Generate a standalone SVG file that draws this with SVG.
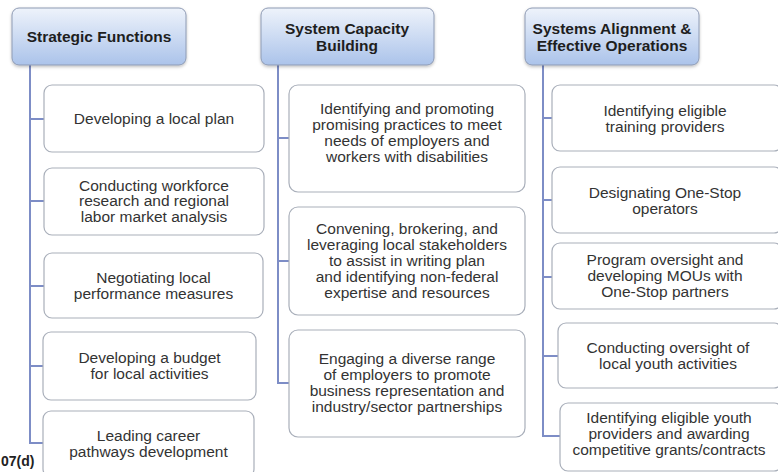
<svg xmlns="http://www.w3.org/2000/svg" width="778" height="472" viewBox="0 0 778 472">
<defs>
<linearGradient id="hdr" x1="0" y1="0" x2="0" y2="1">
<stop offset="0" stop-color="#eef3fb"/>
<stop offset="1" stop-color="#abc3ea"/>
</linearGradient>
<filter id="sh" x="-10%" y="-10%" width="120%" height="130%">
<feDropShadow dx="0" dy="1.5" stdDeviation="1.5" flood-color="#000" flood-opacity="0.25"/>
</filter>
<style>
.hd{fill:url(#hdr);stroke:#8e9bb4;stroke-width:1;filter:url(#sh)}
.bx{fill:#fff;stroke:#a9afba;stroke-width:1.2}
.ht{font-family:"Liberation Sans",Arial,sans-serif;font-weight:bold;font-size:15.5px;fill:#1e1e1e;text-anchor:middle}
.t{font-family:"Liberation Sans",Arial,sans-serif;font-size:15.5px;fill:#333;text-anchor:middle}
.c{fill:none;stroke:#7d8dc6;stroke-width:2}
</style>
</defs>
<rect width="778" height="472" fill="#fff"/>
<g id="connectors">
<path class="c" d="M30,65V443H43M30,119H44M30,201H44M30,286H44M30,366H43"/>
<path class="c" d="M278,65V383H289M278,138H289M278,261H289"/>
<path class="c" d="M543,65V436H560M543,118H552M543,200H552M543,277H552M543,356H558"/>
</g>
<g id="h1"><rect class="hd" x="12" y="8" width="174" height="57" rx="7"/><text class="ht" x="99" y="42">Strategic Functions</text></g>
<g id="h2"><rect class="hd" x="261" y="8" width="173" height="57" rx="7"/><text class="ht" x="347" y="34">System Capacity</text><text class="ht" x="347" y="51">Building</text></g>
<g id="h3"><rect class="hd" x="525" y="8" width="174" height="57" rx="7"/><text class="ht" x="612" y="34">Systems Alignment &amp;</text><text class="ht" x="612" y="51">Effective Operations</text></g>

<g id="a1"><rect class="bx" x="44" y="85" width="220" height="67" rx="8"/><text class="t" x="154" y="124">Developing a local plan</text></g>
<g id="a2"><rect class="bx" x="44" y="168" width="220" height="67" rx="8"/><text class="t" x="154" y="190.5">Conducting workforce</text><text class="t" x="154" y="206">research and regional</text><text class="t" x="154" y="221.5">labor market analysis</text></g>
<g id="a3"><rect class="bx" x="44" y="253" width="219" height="65" rx="8"/><text class="t" x="153.5" y="283">Negotiating local</text><text class="t" x="153.5" y="299">performance measures</text></g>
<g id="a4"><rect class="bx" x="43" y="332" width="213" height="68" rx="8"/><text class="t" x="149.5" y="363">Developing a budget</text><text class="t" x="149.5" y="379">for local activities</text></g>
<g id="a5"><rect class="bx" x="43" y="411" width="211" height="66" rx="8"/><text class="t" x="148.5" y="441">Leading career</text><text class="t" x="148.5" y="457">pathways development</text></g>

<g id="b1"><rect class="bx" x="289" y="85" width="236" height="107" rx="9"/><text class="t" x="407" y="114">Identifying and promoting</text><text class="t" x="407" y="130">promising practices to meet</text><text class="t" x="407" y="146">needs of employers and</text><text class="t" x="407" y="162">workers with disabilities</text></g>
<g id="b2"><rect class="bx" x="289" y="207" width="236" height="108" rx="9"/><text class="t" x="407" y="233.5">Convening, brokering, and</text><text class="t" x="407" y="249.5">leveraging local stakeholders</text><text class="t" x="407" y="265.5">to assist in writing plan</text><text class="t" x="407" y="281.5">and identifying non-federal</text><text class="t" x="407" y="297.5">expertise and resources</text></g>
<g id="b3"><rect class="bx" x="289" y="330" width="236" height="107" rx="9"/><text class="t" x="407" y="364">Engaging a diverse range</text><text class="t" x="407" y="380">of employers to promote</text><text class="t" x="407" y="396">business representation and</text><text class="t" x="407" y="412">industry/sector partnerships</text></g>

<g id="c1"><rect class="bx" x="552" y="85" width="230" height="66" rx="8"/><text class="t" x="665" y="115.5">Identifying eligible</text><text class="t" x="665" y="131.5">training providers</text></g>
<g id="c2"><rect class="bx" x="552" y="167" width="230" height="66" rx="8"/><text class="t" x="665" y="197.5">Designating One-Stop</text><text class="t" x="665" y="213.5">operators</text></g>
<g id="c3"><rect class="bx" x="552" y="243" width="230" height="66" rx="8"/><text class="t" x="665" y="264.5">Program oversight and</text><text class="t" x="665" y="280.5">developing MOUs with</text><text class="t" x="665" y="296.5">One-Stop partners</text></g>
<g id="c4"><rect class="bx" x="558" y="323" width="224" height="65" rx="8"/><text class="t" x="668" y="352.5">Conducting oversight of</text><text class="t" x="668" y="368.5">local youth activities</text></g>
<g id="c5"><rect class="bx" x="560" y="403" width="222" height="68" rx="8"/><text class="t" x="669" y="422.5">Identifying eligible youth</text><text class="t" x="669" y="438.5">providers and awarding</text><text class="t" x="669" y="454.5">competitive grants/contracts</text></g>

<text x="1" y="466" font-family="Liberation Sans,Arial,sans-serif" font-weight="bold" font-size="14" fill="#222">07(d)</text>
</svg>
